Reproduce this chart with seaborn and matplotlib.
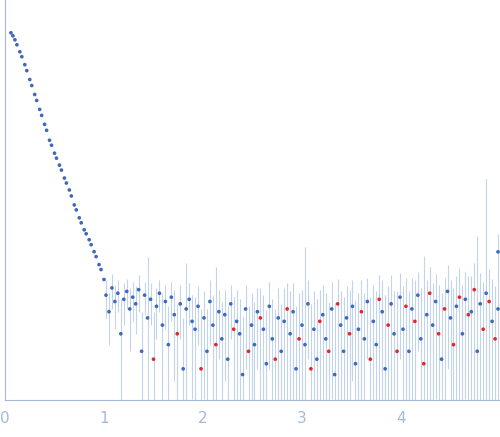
import numpy as np
import pandas as pd
import matplotlib
matplotlib.use("Agg")
import matplotlib.pyplot as plt
import seaborn as sns

# Guinier/low-q region (q, log10 I)
q_low = [0.06,0.08,0.10,0.12,0.15,0.17,0.20,0.22,0.25,0.27,0.30,0.32,0.35,0.37,0.40,0.42,0.45,0.47,0.50,
         0.52,0.55,0.57,0.60,0.62,0.65,0.67,0.70,0.72,0.75,0.77,0.80,0.82,0.85,0.87,0.90,0.92,0.95,0.97,1.00]
logI_low = [-0.02,-0.05,-0.09,-0.14,-0.21,-0.26,-0.34,-0.40,-0.49,-0.55,-0.64,-0.70,-0.79,-0.85,-0.94,-1.00,
            -1.10,-1.15,-1.23,-1.28,-1.35,-1.40,-1.48,-1.53,-1.60,-1.66,-1.75,-1.80,-1.88,-1.93,-2.00,-2.04,
            -2.10,-2.15,-2.22,-2.27,-2.35,-2.40,-2.50]

# high-q region, intensity in units of 1e-3 (negative values shown in red as |I|)
q_high = list(np.round(np.arange(1.02, 5.0, 0.03), 2))
I_high = [2.2,1.5,2.6,1.9,2.3,0.9,2.0,2.4,1.6,2.1,
          1.8,2.5,0.6,2.2,1.3,2.0,-0.5,1.7,2.3,1.1,
          1.9,0.7,2.1,1.4,-0.9,1.8,0.4,1.6,2.0,1.2,
          1.0,1.7,-0.4,1.3,0.6,1.9,1.1,-0.7,1.5,0.8,
          1.4,0.5,1.8,-1.0,1.2,0.9,0.35,1.6,-0.6,1.1,
          0.7,1.5,-1.3,1.0,0.45,1.7,0.8,-0.5,1.3,0.6,
          1.2,-1.6,0.9,1.5,0.4,-0.8,1.1,0.7,1.8,-0.4,
          1.0,0.5,-1.2,1.4,0.8,-0.6,1.6,0.35,-1.8,1.1,
          0.6,1.3,-0.9,1.7,0.45,1.0,-1.5,0.8,1.9,-0.5,
          1.2,0.7,-2.0,1.5,0.4,-1.1,1.8,0.9,-0.6,2.1,
          1.0,-1.7,0.6,1.6,-1.2,2.2,0.8,-0.45,1.4,-2.3,
          1.1,1.9,-0.9,0.5,-1.6,2.4,1.3,-0.7,1.7,-2.1,
          0.9,2.0,-1.4,1.5,-2.5,0.6,1.8,-1.0,2.3,-1.9,
          1.2,-0.8,1.6]
E_high = [0.9,0.8,1.0,0.9,0.8,1.1,0.9,0.8,1.0,0.9,
          0.9,1.0,0.9,0.8,4.0,0.9,1.0,0.9,0.8,1.2,
          0.9,1.0,0.9,1.1,0.9,1.0,0.9,3.0,0.9,1.0,
          1.1,1.0,1.2,1.1,1.0,1.2,1.1,3.5,1.0,1.1,
          1.1,1.2,1.0,1.1,1.3,1.1,1.0,1.2,1.1,1.2,
          1.2,1.1,1.3,1.2,1.1,1.3,1.2,1.1,1.3,1.2,
          1.4,1.3,1.5,1.4,1.3,1.5,1.4,6.0,1.3,1.4,
          1.4,1.5,1.3,1.4,1.5,1.3,1.4,1.5,1.4,1.3,
          1.5,1.4,1.6,1.4,1.5,1.3,1.6,1.5,1.4,1.6,
          1.6,1.7,1.5,1.6,1.8,1.6,1.7,1.5,1.8,1.6,
          1.7,1.6,1.8,1.7,1.9,1.6,1.8,5.0,1.7,1.9,
          1.8,1.7,1.9,1.8,1.7,2.0,1.8,1.9,1.7,2.0,
          1.9,1.8,2.0,1.9,2.1,8.0,1.9,2.0,30.0,2.1,
          2.0,1.9,2.2]
q_out = [4.98]
I_out = [6.0]

q = np.array(q_low + q_high + q_out)
I = np.concatenate([10**np.array(logI_low), np.array(I_high)*1e-3, np.array(I_out)*1e-3])
E = np.concatenate([10**np.array(logI_low)*0.02, np.array(E_high)*1e-3, [3e-3]])
df = pd.DataFrame({"q": q, "I": np.abs(I), "sign": np.where(I < 0, "neg", "pos")})

sns.set_style("white")
fig = plt.figure(figsize=(5, 4.37), dpi=100)
ax = fig.add_axes([0.01, 0.085, 0.99, 0.915])
ybot, ytop = 10**-3.71, 10**0.31
lo = np.clip(I - E, ybot, None)
hi = I + E
lo = np.where(I < 0, ybot, lo)
hi = np.where(I < 0, np.abs(I) + E, hi)
ax.vlines(q, lo, hi, color="#c3d3ec", lw=0.8, zorder=1)
sns.scatterplot(data=df, x="q", y="I", hue="sign", palette={"pos": "#3d69b8", "neg": "#e3262b"},
                s=7, linewidth=0, legend=False, ax=ax, zorder=2)
ax.set_yscale("log")
ax.set_xlim(0, 5)
ax.set_ylim(ybot, ytop)
ax.set_xticks([0, 1, 2, 3, 4])
ax.set_yticks([1, 1e-1, 1e-2, 1e-3])
ax.yaxis.set_minor_locator(matplotlib.ticker.NullLocator())
ax.set_yticklabels([])
ax.set_xlabel(""); ax.set_ylabel("")
for s in ["top", "right"]:
    ax.spines[s].set_visible(False)
for s in ["left", "bottom"]:
    ax.spines[s].set_color("#a5b8dc")
ax.tick_params(axis="y", direction="in", length=6, color="#a5b8dc")
ax.tick_params(axis="x", length=0, labelcolor="#a5b8dc", labelsize=11, pad=8)
fig.savefig("out.png")
